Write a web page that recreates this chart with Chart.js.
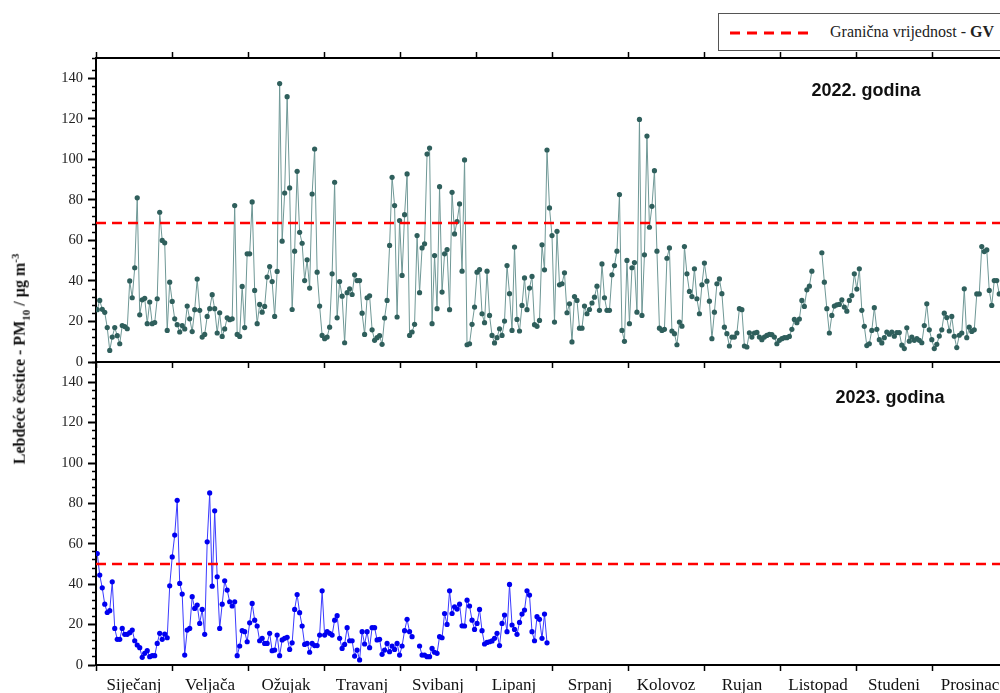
<!DOCTYPE html>
<html>
<head>
<meta charset="utf-8">
<title>PM10 2022 / 2023</title>
<script src="https://cdn.jsdelivr.net/npm/chart.js@4.4.1/dist/chart.umd.min.js"></script>
<style>
  html, body { margin: 0; padding: 0; background: #fff; }
  #page { position: relative; width: 1000px; height: 693px; overflow: hidden; }
  #page canvas { position: absolute; left: 0; top: 0; }
  .panel-label {
    position: absolute; transform: translate(-50%, -50%);
    font: bold 18px "Liberation Sans", Arial, sans-serif; color: #111; white-space: nowrap;
  }
  #ytitle {
    position: absolute; left: 20px; top: 359px;
    transform: translate(-50%, -50%) rotate(-90deg);
    font: bold 16px "Liberation Serif", "Times New Roman", serif; color: #111; white-space: nowrap;
  }
  #ytitle sub, #ytitle sup { font-size: 11px; }
  #legend {
    position: absolute; left: 718px; top: 13px; width: 300px; height: 36px;
    border: 1px solid #555; background: #fff;
    font: 16px "Liberation Serif", "Times New Roman", serif; color: #222;
  }
  #legend svg { position: absolute; left: 9px; top: 16px; }
  #legend span { position: absolute; left: 111px; top: 9px; white-space: nowrap; }
</style>
</head>
<body>
<div id="page">
  <canvas id="chart2022" width="1020" height="693"></canvas>
  <canvas id="chart2023" width="1020" height="693"></canvas>
  <div id="legend">
    <svg width="86" height="6"><line x1="2" y1="3" x2="84" y2="3" stroke="#ff0000" stroke-width="3" stroke-dasharray="10,7"/></svg>
    <span>Granična vrijednost - <b>GV</b></span>
  </div>
  <div class="panel-label" style="left:866px; top:90px">2022. godina</div>
  <div class="panel-label" style="left:890px; top:397px">2023. godina</div>
  <div id="ytitle">Lebdeće čestice - PM<sub>10</sub> / µg m<sup>-3</sup></div>
</div>

<script>
// months on the x axis (equal width), daily values drawn day by day
const monthNames = ['Siječanj', 'Veljača', 'Ožujak', 'Travanj', 'Svibanj', 'Lipanj',
                    'Srpanj', 'Kolovoz', 'Rujan', 'Listopad', 'Studeni', 'Prosinac'];
const daysInYear = 365;

// limit values (GV)
const gv2022 = 68.6;
const gv2023 = 50;

// y axis
const yMin = 0;
const yMax = 150;
const yStep = 4;
const yLabelStep = 20;
const yLabelMax = 140;

// daily PM10, µg/m3 (null = no data)
const pm2022 = [
  // sijecanj
  25.8, 30.4, 26, 24.5, 17, 5.7, 12.3, 17, 13, 9, 18, 17.5, 16.4, 40, 31.7, 46.5, 81, 23.3, 30.7, 31.4,
  18.9, 29.6, 18.9, 19.5, 31.2, 73.9, 60, 58.8, 15.6, 39.4,
  // veljaca
  29.9, 21.3, 18.4, 14.8, 18, 16.3, 27.6, 21.3, 15, 25.8, 40.9, 25.5, 12.3, 13.6, 22.5, 26.3, 33.2, 26.3,
  14.3, 24.3, 12.6, 16.3, 21.8, 20.9, 21.3, 77.2, 13.6, 12.6,
  // ozujak
  37.3, 17, 53.4, 53.4, 79, 35.3, 18.9, 28.4, 24.6, 27.4, 41.9, 47.1, 39.7, 22.5, 44.7, 137.4, 59.6, 83.4,
  130.9, 85.9, 25.9, 54.7, 94.1, 64, 58.6, 40.2, 50.4, 36.5, 82.9, 105.1, 44.3, 27.6, 13.1,
  // travanj
  11.5, 12.3, 17.2, 43.5, 88.7,
  21.8, 39.7, 32.5, 9.5, 34.2, 36.1, 33.3, 43, 40.2, 40.2, 24.1, 13.6, 31.7, 32.7, 15.9, 10.7, 12, 13, 8.7, 21.7,
  30.4, 57.5, 91.1, 77.2, 22.2, 69.8, 42.7, 72.7, 92.8, 13.1, 14.8, 18.6, 62.4, 34.2, 56.3, 58.3, 102.6, 105.6, 18.9, 52.5,
  // svibanj
  26.3, 86.5, 34.5, 53.4, 55.5, 25.8, 83.7, 63.2, 69.3, 78, 44.8, 99.7, 8.5, 9, 18.6, 27.1, 44.3, 45.6, 23.8, 19.4,
  44.8, 23, 13.1, 9.4, 12, 16.4, 13.1, 20.2, 47.6, 33.7, 15.6, 56.7, 21, 15.3, 27.9, 41.5, 25.8, 36.5, 42.2, 18.4,
  // lipanj
  17.6, 20.5, 57.8, 45.5, 104.6, 76, 62.4, 19.7, 64.5, 38.1, 38.6, 44, 24.3, 28.7, 9.9, 32.3, 30.4, 16.7, 16.7, 27.6,
  23.8, 25.9, 29.1, 32, 37.4, 25.5, 48.4, 31.7, 25.5, 25.5, 43, 47.6, 54.7, 82.6, 15.6, 10.2, 50.1,
  // srpanj - kolovoz
  18.9, 46.5, 49.1, 24.6, 119.7, 23, 52.9, 111.5, 66.5, 76.8, 94.4, 54.7, 16.7, 15.6, 16.1, 51.2, 56.3, 15.3, 14, 8.5,
  19.7, 17.7, 57, 43.5, 34.8, 32.3, 46, 31.2, 23.8, 38.1, 48.8, 39.9, 30, 11.5, 24.6, 38.6, 41, 33.7, 17.2, 14,
  7.9, 12.3, 12.3, 14.3, 26.3, 25.8, 7.9, 7.4, 14.4, 12.3, 14.3, 14.6, 12.3, 11, 12.3, 13.1, 13.6, 13.5, 12.3, 9,
  10.7, 11.5, 12, 12, 12.6, 16.1, 21, 19.4, 21.2, 30.4, 27.4, 35.6, 37.4, 44.8, null, null, null, 53.9, 39.4, 26.3,
  // rujan - listopad
  14.3, 23, 27.6, 28.2, 28.4, 30.7, 27.1, 25.1, 30.4, 32.8, 43.5, 36,
  46, 25.5, 17.6, 8.1, 9, 15.6, 26.8, 16.1, 11, 9.4, 12, 14.8, 13.7, 14.8, 12.7, 14.5, 14.5, 8.3, 6.6, 16.9,
  10.3, 12.3, 10.7, 11.5, 10.7, 9.5, 18, 28.7, 15.9, 11, 6.6, 8.7, 12.8, 15.9, 24.1, 21.9, 15.3, 22.5, 12.7, 7.1,
  // studeni - prosinac
  13.2, 14.3, 36.1, 12, 17.2, 15.1, 15.9, 33.6, 33.6, 57, 54.5, 55.3, 35.3, 27.9, 40.2, 40.2, 33.6
];

const pm2023 = [
  55.2, 44.5, 38.2, 30.1, 26, 26.9, 41.2, 18.1, 12.7, 12.7, 18.1, 15.2, 15.2, 16, 17.3, 12, 9.9, 8.6, 3.8, 5.8,
  7.1, 4.1, 4.6, 4.6, 10.7, 15.7, 12.7, 15.3, 13.5, 39.2, 53.5, 64.3, 81.5, 40.4, 35.1, 4.9, 17.3, 18.1, 33.8, 28,
  29.7, 20.6, 27.5, 15.2, 61, 85.2, 39, 76.3, 43.7, 18.1, 30.1, 41.7, 37.1, 31.3, 29.2, 31.3, 4.6, 9.4, 17, 16.5,
  11.5, 20.9, 30.5, 22.2, 19.3, 12, 13.2, 10.7, 10.7, 15.7, 7.1, 7.4, 14.8, 4.6, 12.4, 13.2, 13.7, 7.7, 11, 27.5,
  34.9, 25.9, 19.3, 10.2, 10.7, 6.3, 10.7, 9.6, 9.6, 14.8, 36.7, 14.8, 16.5, 15.7, 14.8, 22.2, 24.4,
  13.2, 8.2, 10.2, 18.5, 12, 12, 4.4, 7.4, 2.5, 16.5, 10.4, 16.5, 8.6, 18.5, 18.5, 12.4, 12.7, 5.3, 7.4, 10.7,
  6.6, 9.4, 7.7, 10.7, 4.9, 9.4, 17, 22.6, 16.5, 14, null, null, 9.4, 4.9, 4.9, 4.1, 4.1, 8.2, 6.3, 5.8,
  14, 13.5, 25.5, 20.1, 36.7, 25.5, 28.8, 27.7, 30.1, 19.4, 19.3, 32.1, 29.2, 22.2, 17.6, 20.6, 27.5, 17, 10.4, 11.2,
  11.5, 11.9, 13.2, 15.7, 9.6, 20.6, 24.7, 16.5, 39.9, 19.8, 17.6, 15.2, 21.1, 25.2, 27.2, 36.7, 34.6, 16.5, 12, 23.9,
  22.6, 13.2, 25.2, 11
];

const monthLen = daysInYear / 12;
const FONT_SERIF = '"Liberation Serif", "Times New Roman", serif';

function toPoints(values) {
  return values.map((v, i) => ({ x: i + 0.5, y: v }));
}

function limitLine(v) {
  return [{ x: 0, y: v }, { x: daysInYear, y: v }];
}

function isMidMonth(value) {
  const f = (value / monthLen) % 1;
  return Math.abs(f - 0.5) < 0.01;
}

// month boundaries (+ month middles for the labels)
function monthTicks(withLabels) {
  return scale => {
    const t = [];
    for (let k = 0; k <= 12; k++) {
      t.push({ value: k * monthLen });
      if (withLabels && k < 12) t.push({ value: (k + 0.5) * monthLen });
    }
    scale.ticks = t;
  };
}

function xAxis(position, height, withLabels) {
  return {
    type: 'linear',
    position: position,
    min: 0,
    max: daysInYear,
    afterBuildTicks: monthTicks(withLabels),
    afterFit: s => { s.height = height; },
    border: { color: '#000', width: 2 },
    grid: {
      drawOnChartArea: false,
      drawTicks: true,
      tickLength: 6,
      tickWidth: 1.5,
      tickColor: ctx => (ctx.tick && isMidMonth(ctx.tick.value)) ? 'rgba(0,0,0,0)' : '#000'
    },
    ticks: {
      autoSkip: false,
      maxRotation: 0,
      padding: 4,
      color: '#111',
      font: { family: FONT_SERIF, size: 17 },
      callback: v => (withLabels && isMidMonth(v)) ? monthNames[Math.floor(v / monthLen)] : ''
    }
  };
}

function yAxis() {
  const major = ctx => ctx.tick && ctx.tick.value % yLabelStep === 0;
  return {
    type: 'linear',
    min: yMin,
    max: yMax,
    afterFit: s => { s.width = 96; },
    border: { color: '#000', width: 2 },
    grid: {
      drawOnChartArea: false,
      tickLength: 8,
      tickColor: '#000',
      tickWidth: ctx => major(ctx) ? 2 : 1.5,
      tickBorderDash: ctx => major(ctx) ? [] : [4, 4],
      tickBorderDashOffset: ctx => major(ctx) ? 0 : 4
    },
    ticks: {
      stepSize: yStep,
      autoSkip: false,
      padding: 5,
      color: '#222',
      font: { family: FONT_SERIF, size: 14.5 },
      callback: v => (v % yLabelStep === 0 && v <= yLabelMax) ? v : ''
    }
  };
}

function makeChart(id, values, gv, lineColor, pointColor, padTop, scalesX) {
  return new Chart(document.getElementById(id), {
    type: 'line',
    data: {
      datasets: [
        {
          label: 'GV',
          data: limitLine(gv),
          borderColor: '#ff0000',
          borderWidth: 2.6,
          borderDash: [10, 6],
          pointRadius: 0,
          order: 0
        },
        {
          label: 'PM10',
          data: toPoints(values),
          borderColor: lineColor,
          borderWidth: 1,
          pointRadius: 2.6,
          pointBackgroundColor: pointColor,
          pointBorderWidth: 0,
          tension: 0,
          spanGaps: false,
          order: 1
        }
      ]
    },
    options: {
      responsive: false,
      animation: false,
      layout: { padding: { left: 0, right: 12, top: padTop, bottom: 0 } },
      plugins: { legend: { display: false }, tooltip: { enabled: false } },
      scales: Object.assign({ y: yAxis() }, scalesX)
    }
  });
}

// 2022 panel: top half
makeChart('chart2022', pm2022, gv2022, '#6f9896', '#2f5f5c', 0, {
  x: xAxis('bottom', 693 - 362, false),
  xTop: xAxis('top', 58, false)
});

// 2023 panel: bottom half, carries the month labels
makeChart('chart2023', pm2023, gv2023, '#3a3aff', '#0000f0', 362, {
  x: xAxis('bottom', 28, true)
});
</script>
</body>
</html>
